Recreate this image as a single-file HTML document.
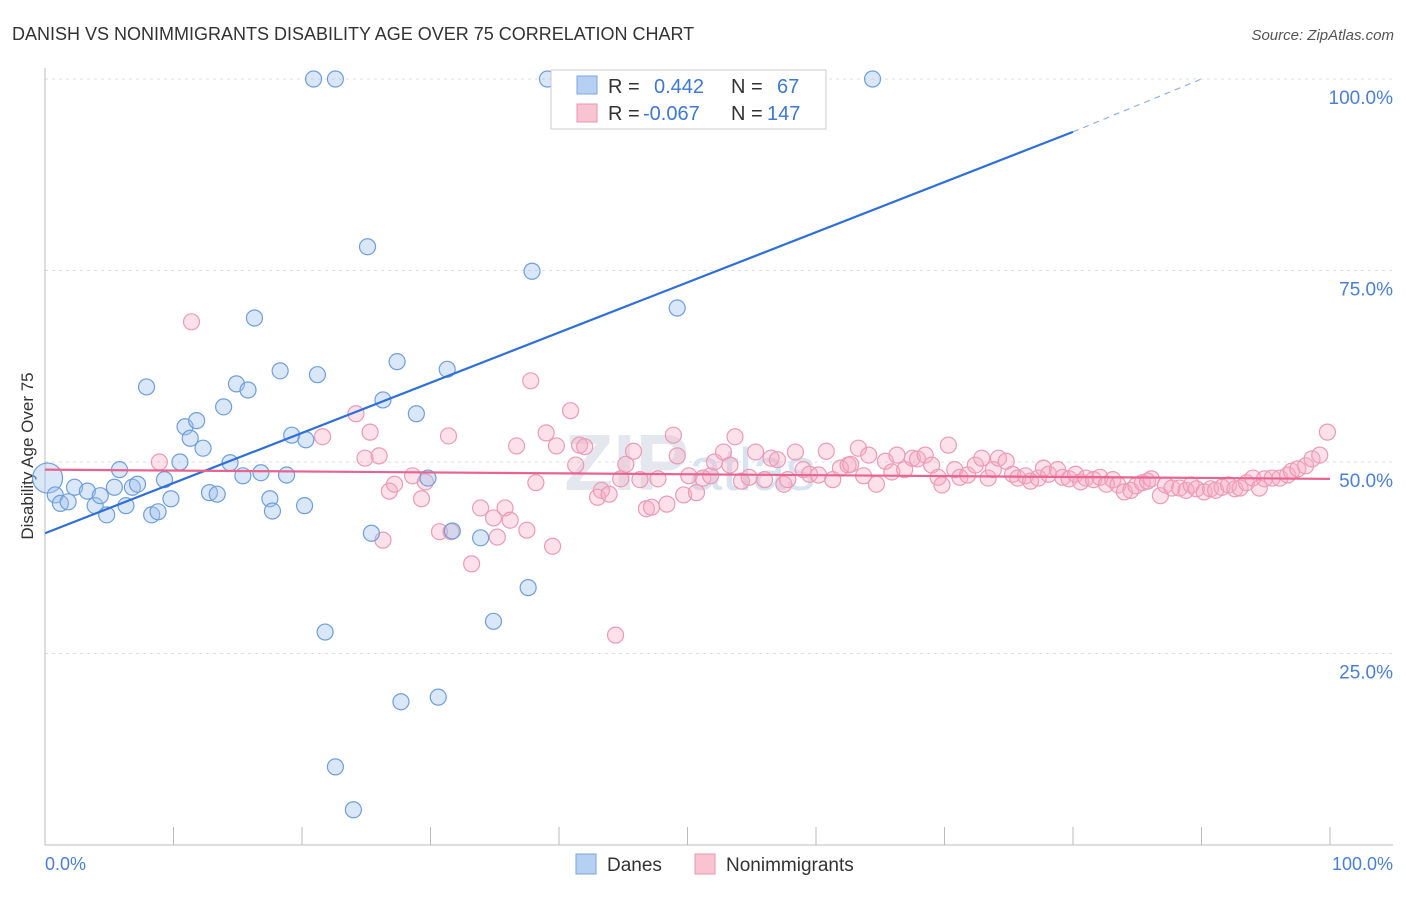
<!DOCTYPE html>
<html><head><meta charset="utf-8"><style>
body{margin:0;background:#fff;font-family:"Liberation Sans",sans-serif}
svg text{font-family:"Liberation Sans",sans-serif}
</style></head><body>
<svg id="chart" width="1406" height="892" xmlns="http://www.w3.org/2000/svg">
<text x="12" y="40" font-size="18" fill="#333">DANISH VS NONIMMIGRANTS DISABILITY AGE OVER 75 CORRELATION CHART</text>
<text x="1394" y="40" font-size="15" fill="#555" text-anchor="end" font-style="italic">Source: ZipAtlas.com</text>
<g id="grid"></g>
<text x="690" y="490" font-size="80" fill="#e4e8ee" text-anchor="middle" font-weight="bold" font-family="Liberation Serif">ZIP<tspan font-weight="normal" font-size="60" fill="#d8e3f2">atlas</tspan></text>
<line x1="45" y1="68" x2="45" y2="845" stroke="#bbb"/>
<line x1="45" y1="845" x2="1393" y2="845" stroke="#bbb"/>
<text transform="translate(33,456) rotate(-90)" font-size="17" fill="#333" text-anchor="middle">Disability Age Over 75</text>
<text x="45" y="870" font-size="18" fill="#4a7fd4">0.0%</text>
<text x="1393" y="870" font-size="18" fill="#4a7fd4" text-anchor="end">100.0%</text>
<g id="ticks"></g>
<g id="ylabels"></g>
<g id="pink"></g>
<g id="blue"></g>
<g id="lines"></g>
<g>
<rect x="551" y="70" width="275" height="59" fill="#fff" stroke="#ccc"/>
<rect x="577" y="76" width="20" height="18" fill="#b5d0f2" stroke="#7aa6dc"/>
<rect x="577" y="104" width="20" height="18" fill="#f8c3d3" stroke="#e894ae"/>
<text x="608" y="93" font-size="20" fill="#333">R = <tspan fill="#3e78d0" x="654">0.442</tspan><tspan x="731">N = </tspan><tspan fill="#3e78d0" x="777">67</tspan></text>
<text x="608" y="120" font-size="20" fill="#333">R = <tspan fill="#3e78d0" x="643">-0.067</tspan><tspan x="731">N = </tspan><tspan fill="#3e78d0" x="767">147</tspan></text>
</g>
<g>
<rect x="576" y="854" width="20" height="20" fill="#b5d0f2" stroke="#7aa6dc"/>
<text x="607" y="871" font-size="19" fill="#333">Danes</text>
<rect x="695" y="854" width="20" height="20" fill="#f8c3d3" stroke="#e894ae"/>
<text x="726" y="871" font-size="19" fill="#333">Nonimmigrants</text>
</g>
</svg>
<script>
const blueX=[0.2,0.8,1.2,1.8,2.3,3.3,3.9,4.3,4.8,5.4,5.8,6.3,6.8,7.2,7.9,8.3,8.8,9.3,9.8,10.5,10.9,11.3,11.8,12.3,12.8,13.4,13.9,14.4,14.9,15.4,15.8,16.3,16.8,17.5,17.7,18.3,18.8,19.2,20.2,20.3,21.2,20.9,22.6,21.8,22.6,24.0,25.1,25.4,26.3,27.4,27.7,28.9,29.8,30.6,31.3,31.7,33.9,34.9,37.6,37.9,39.1,47.7,49.2,64.4];
const blueY=[47.9,45.7,44.6,44.8,46.7,46.2,44.3,45.6,43.1,46.7,49.0,44.3,46.7,47.1,59.8,43.1,43.5,47.7,45.2,50.0,54.6,53.1,55.4,51.8,46.0,45.8,57.2,49.9,60.2,48.2,59.4,68.8,48.6,45.2,43.6,61.9,48.3,53.5,44.3,52.9,61.4,100,100,27.8,10.2,4.6,78.1,40.7,58.1,63.1,18.7,56.3,47.9,19.3,62.1,41.0,40.1,29.2,33.6,74.9,100,100,70.1,100];
const pinkX=[8.9,11.4,21.6,24.2,24.9,25.3,26.0,26.3,26.8,27.2,28.6,29.3,29.6,30.7,31.4,31.6,33.2,33.9,34.9,35.2,35.8,36.2,36.7,37.5,37.8,38.2,39.0,39.5,39.8,40.9,41.3,41.6,42.0,43.0,43.3,43.9,44.4,44.8,45.2,45.8,46.3,46.8,47.2,47.7,48.4,48.9,49.2,49.7,50.1,50.7,51.2,51.8,52.1,52.8,53.3,53.7,54.2,54.8,55.3,56.0,56.5,57.0,57.5,57.8,58.4,59.0,59.5,60.2,60.8,61.3,61.9,62.5,62.7,63.3,63.7,64.1,64.7,65.4,65.9,66.3,66.9,67.5,67.9,68.5,69.0,69.5,69.8,70.3,70.8,71.2,71.8,72.4,72.9,73.4,73.8,74.2,74.8,75.3,75.7,76.3,76.7,77.3,77.7,78.1,78.8,79.2,79.7,80.2,80.6,81.0,81.6,82.1,82.6,83.1,83.5,84.0,84.5,84.9,85.4,85.8,86.1,86.8,87.2,87.7,88.3,88.8,89.2,89.6,90.2,90.7,91.1,91.6,92.1,92.6,93.0,93.5,94.0,94.5,94.9,95.5,96.1,96.7,97.0,97.5,98.1,98.6,99.2,99.8];
const pinkY=[50.0,68.3,53.3,56.3,50.5,53.9,50.8,39.8,46.2,47.1,48.2,45.2,47.4,40.9,53.4,40.9,36.7,44.0,42.7,40.2,44.0,42.4,52.1,41.1,60.6,47.3,53.8,39.0,52.1,56.7,49.6,52.2,52.0,45.4,46.3,45.8,27.4,47.8,49.7,51.4,47.7,43.9,44.1,47.8,44.5,53.5,50.8,45.7,48.2,46.0,47.9,48.2,50.0,51.3,49.6,53.3,47.5,48.0,51.3,47.7,50.5,50.3,47.1,47.7,51.3,49.0,48.4,48.3,51.4,47.7,49.2,49.6,49.7,51.8,48.2,50.9,47.1,50.1,48.7,50.9,49.0,50.5,50.4,50.9,49.6,48.0,47.0,52.2,49.0,48.0,48.3,49.6,50.5,47.9,49.0,50.5,50.1,48.4,47.9,48.2,47.5,47.9,49.2,48.4,49.0,48.0,47.8,48.4,47.4,47.9,47.7,48.0,47.1,47.7,47.0,46.1,46.3,46.9,47.3,47.5,47.8,45.6,47.0,46.6,46.6,46.3,47.0,46.5,46.1,46.5,46.3,46.7,47.0,46.5,46.6,47.3,47.9,46.6,47.8,47.9,47.9,48.3,48.8,49.1,49.5,50.4,50.9,53.9];
const yTicks=[25,50,75,100];
const yTickLabels=["25.0%","50.0%","75.0%","100.0%"];
const blueTrend=[0,40.7,80,93.1];
const blueTrendExt=[80,93.1,90,100];
const pinkTrend=[0,49.0,100,47.8];
const NS="http://www.w3.org/2000/svg";
const sx=v=>45+v*12.85, sy=v=>845-v*7.66;
function mk(tag,attrs,parent){const e=document.createElementNS(NS,tag);for(const k in attrs)e.setAttribute(k,attrs[k]);parent.appendChild(e);return e;}
const grid=document.getElementById('grid'),yl=document.getElementById('ylabels'),tk=document.getElementById('ticks');
yTicks.forEach((t,i)=>{
  const l=mk('line',{x1:45,x2:1393,y1:sy(t),y2:sy(t),stroke:'#ddd','stroke-dasharray':'3,4'},grid);
  
  
  const tx=mk('text',{x:1393,y:sy(t)+25,'font-size':19,fill:'#4a7fd4','text-anchor':'end'},yl);
  tx.textContent=yTickLabels[i];
  
  
});
for(let i=0;i<=10;i++){
  const l=mk('line',{x1:sx(i*10),x2:sx(i*10),y1:827,y2:845,stroke:'#bbb'},tk);
  
  
}
const pg=document.getElementById('pink');
pinkX.forEach((x,i)=>{
  const c=mk('circle',{cx:sx(x),cy:sy(pinkY[i]),r:8,fill:'rgba(245,170,195,0.35)',stroke:'#eb9bb5','stroke-width':1.2},pg);
  
  
});
const bg=document.getElementById('blue');
blueX.forEach((x,i)=>{
  const c=mk('circle',{cx:sx(x),cy:sy(blueY[i]),r:i===0?15:8,fill:'rgba(160,195,238,0.4)',stroke:'#6f9fd9','stroke-width':1.2},bg);
  
  
});
const lg=document.getElementById('lines');
const b1=mk('line',{x1:sx(blueTrend[0]),y1:sy(blueTrend[1]),x2:sx(blueTrend[2]),y2:sy(blueTrend[3]),stroke:'#2f6fd6','stroke-width':2.2},lg);


const b2=mk('line',{x1:sx(blueTrendExt[0]),y1:sy(blueTrendExt[1]),x2:sx(blueTrendExt[2]),y2:sy(blueTrendExt[3]),stroke:'#8fb2e6','stroke-width':1.2,'stroke-dasharray':'6,5'},lg);


const p1=mk('line',{x1:sx(pinkTrend[0]),y1:sy(pinkTrend[1]),x2:sx(pinkTrend[2]),y2:sy(pinkTrend[3]),stroke:'#e8648f','stroke-width':2.2},lg);


</script>
</body></html>
